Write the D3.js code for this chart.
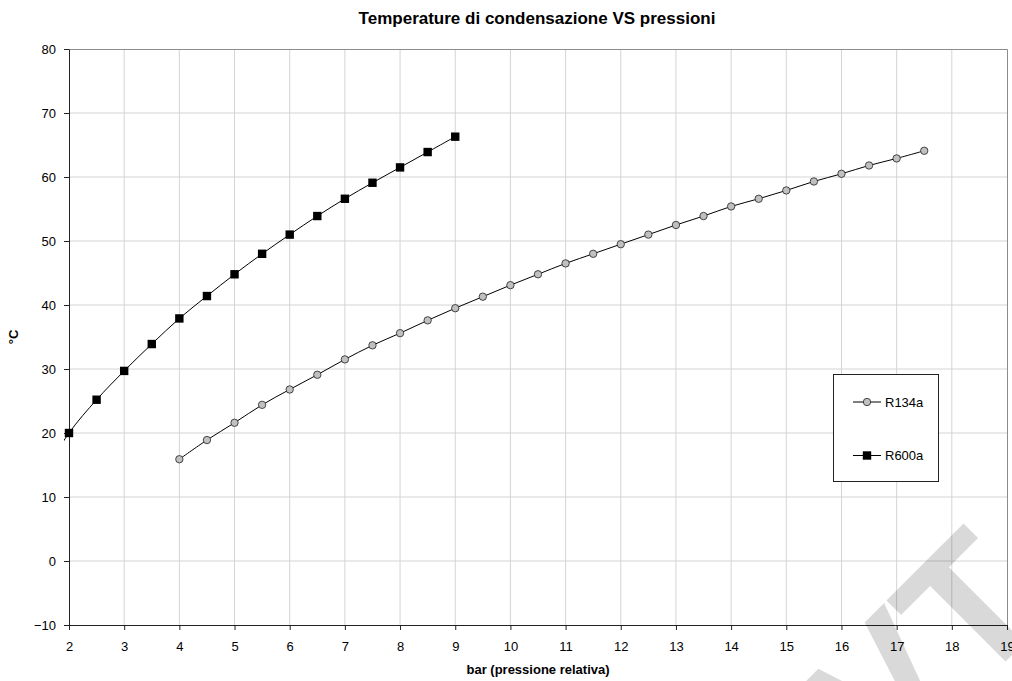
<!DOCTYPE html>
<html>
<head>
<meta charset="utf-8">
<script src="https://cdn.jsdelivr.net/npm/d3@7"></script>
<style>
  body { margin: 0; background: #fff; }
  svg { font-family: "Liberation Sans", Arial, sans-serif; }
</style>
</head>
<body>
<svg id="chart" width="1012" height="681"></svg>
<script>
// data
const pressR134a = [4, 4.5, 5, 5.5, 6, 6.5, 7, 7.5, 8, 8.5, 9, 9.5, 10, 10.5, 11, 11.5, 12, 12.5, 13, 13.5, 14, 14.5, 15, 15.5, 16, 16.5, 17, 17.5];
const tempR134a = [15.9, 18.9, 21.6, 24.4, 26.8, 29.1, 31.5, 33.7, 35.6, 37.6, 39.5, 41.3, 43.1, 44.8, 46.5, 48.0, 49.5, 51.0, 52.5, 53.9, 55.4, 56.6, 57.9, 59.3, 60.5, 61.8, 62.9, 64.1];
const pressR600a = [1.5, 2, 2.5, 3, 3.5, 4, 4.5, 5, 5.5, 6, 6.5, 7, 7.5, 8, 8.5, 9];
const tempR600a = [13, 20, 25.2, 29.7, 33.9, 37.9, 41.4, 44.8, 48.0, 51.0, 53.9, 56.6, 59.1, 61.5, 63.9, 66.3];
const xTicks = d3.range(2, 20, 1);
const yTicks = d3.range(-10, 90, 10);
const seriesNames = ["R134a", "R600a"];

const svg = d3.select("#chart");
const margin = { top: 49, right: 5, bottom: 56, left: 69 };
const width = +svg.attr("width") - margin.left - margin.right;
const height = +svg.attr("height") - margin.top - margin.bottom;

const x = d3.scaleLinear().domain([2, 19]).range([0, width]);
const y = d3.scaleLinear().domain([-10, 80]).range([height, 0]);

const g = svg.append("g")
    .attr("transform", "translate(" + margin.left + "," + margin.top + ")");

// grid
g.append("g").selectAll("line")
    .data(xTicks.slice(1, -1))
    .enter().append("line")
    .attr("x1", d => x(d)).attr("x2", d => x(d))
    .attr("y1", 0).attr("y2", height)
    .attr("stroke", "#d4d4d4");

g.append("g").selectAll("line")
    .data(yTicks.slice(1, -1))
    .enter().append("line")
    .attr("x1", 0).attr("x2", width)
    .attr("y1", d => y(d)).attr("y2", d => y(d))
    .attr("stroke", "#d4d4d4");

// plot border top / right
g.append("path")
    .attr("d", "M0,0.5H" + (width + 0.5) + "V" + height)
    .attr("fill", "none")
    .attr("stroke", "#8c8c8c");

// axes
const xAxis = g.append("g")
    .attr("transform", "translate(0," + height + ")")
    .call(d3.axisBottom(x).tickValues(xTicks).tickSize(5).tickSizeOuter(0).tickPadding(12));

const yAxis = g.append("g")
    .call(d3.axisLeft(y).tickValues(yTicks).tickSize(5).tickSizeOuter(0).tickPadding(8));

[xAxis, yAxis].forEach(a => {
    a.select(".domain").attr("stroke", "#222");
    a.selectAll(".tick line").attr("stroke", "#222");
    a.selectAll("text").attr("font-size", 13).attr("fill", "#000")
        .attr("font-family", "Liberation Sans, Arial, sans-serif");
});

// lines
g.append("clipPath").attr("id", "clip")
    .append("rect").attr("x", -5).attr("y", 0).attr("width", width + 5).attr("height", height);

const line = d3.line()
    .x(d => x(d[0]))
    .y(d => y(d[1]))
    .curve(d3.curveCatmullRom);

const r134a = pressR134a.map((p, i) => [p, tempR134a[i]]);
const r600a = pressR600a.map((p, i) => [p, tempR600a[i]]);

g.append("path")
    .datum(r134a)
    .attr("clip-path", "url(#clip)")
    .attr("d", line)
    .attr("fill", "none")
    .attr("stroke", "#000")
    .attr("stroke-width", 1);

g.append("path")
    .datum(r600a)
    .attr("clip-path", "url(#clip)")
    .attr("d", line)
    .attr("fill", "none")
    .attr("stroke", "#000")
    .attr("stroke-width", 1);

g.selectAll("circle.m")
    .data(r134a)
    .enter().append("circle")
    .attr("class", "m")
    .attr("cx", d => x(d[0]))
    .attr("cy", d => y(d[1]))
    .attr("r", 3.7)
    .attr("fill", "#c0c0c0")
    .attr("stroke", "#222")
    .attr("stroke-width", 0.8);

g.selectAll("rect.m")
    .data(r600a.filter(d => d[0] >= 2))
    .enter().append("rect")
    .attr("class", "m")
    .attr("x", d => x(d[0]) - 4.2)
    .attr("y", d => y(d[1]) - 4.2)
    .attr("width", 8.4)
    .attr("height", 8.4)
    .attr("fill", "#000");

// titles
svg.append("text")
    .attr("x", 537)
    .attr("y", 24)
    .attr("text-anchor", "middle")
    .attr("font-size", 17)
    .attr("font-weight", "bold")
    .text("Temperature di condensazione VS pressioni");

svg.append("text")
    .attr("x", 538)
    .attr("y", 674)
    .attr("text-anchor", "middle")
    .attr("font-size", 13)
    .attr("font-weight", "bold")
    .text("bar (pressione relativa)");

svg.append("text")
    .attr("transform", "translate(18,337) rotate(-90)")
    .attr("text-anchor", "middle")
    .attr("font-size", 13)
    .attr("font-weight", "bold")
    .text("°C");

// legend
const legend = svg.append("g");
legend.append("rect")
    .attr("x", 833.5).attr("y", 374.5)
    .attr("width", 105).attr("height", 107)
    .attr("fill", "#fff")
    .attr("stroke", "#222");

const legRows = legend.selectAll("g.row")
    .data(seriesNames)
    .enter().append("g")
    .attr("class", "row")
    .attr("transform", (d, i) => "translate(0," + (402 + i * 53.5) + ")");

legRows.append("line")
    .attr("x1", 853).attr("x2", 881)
    .attr("stroke", "#000");

legRows.filter(d => d === "R134a").append("circle")
    .attr("cx", 867).attr("r", 3.7)
    .attr("fill", "#c0c0c0").attr("stroke", "#222").attr("stroke-width", 0.8);

legRows.filter(d => d === "R600a").append("rect")
    .attr("x", 862.8).attr("y", -4.2).attr("width", 8.4).attr("height", 8.4)
    .attr("fill", "#000");

legRows.append("text")
    .attr("x", 885)
    .attr("dy", "0.35em")
    .attr("font-size", 13)
    .text(d => d);

// faint watermark over the chart
svg.append("text")
    .attr("transform", "translate(1055,612) rotate(-45)")
    .attr("text-anchor", "end")
    .attr("font-size", 185)
    .attr("font-weight", "bold")
    .attr("fill", "#000")
    .attr("fill-opacity", 0.15)
    .text("VT");
</script>
</body>
</html>
